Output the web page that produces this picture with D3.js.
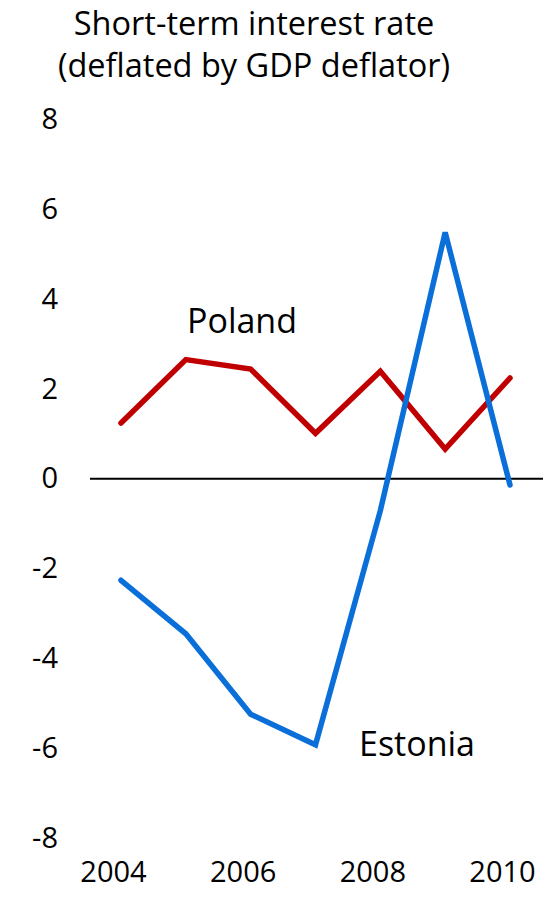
<!DOCTYPE html>
<meta charset="utf-8">
<style>
  body { margin: 0; background: #fff; }
  text { font-family: "Open Sans", "Noto Sans", sans-serif; fill: #000; }
  .title { font-size: 32.5px; }
  .series-label { font-size: 34px; }
</style>
<body>
<svg width="558" height="902"></svg>
<script src="https://d3js.org/d3.v7.min.js"></script>
<script>
// Dane
const years = [2004, 2005, 2006, 2007, 2008, 2009, 2010];
const poland = [1.24, 2.65, 2.44, 1.01, 2.39, 0.66, 2.24];
const estonia = [-2.26, -3.45, -5.24, -5.92, -0.71, 5.48, -0.14];
const yTicks = [-8, -6, -4, -2, 0, 2, 4, 6, 8];
const xTicks = [2004, 2006, 2008, 2010];
const titleLines = ['Short-term interest rate', '(deflated by GDP deflator)'];

const svg = d3.select('svg');

const x = d3.scaleLinear().domain([2004, 2010]).range([121, 510]);
const y = d3.scaleLinear().domain([-8, 8]).range([838.3, 119.1]);

// Tytuł
svg.append('g')
  .selectAll('text')
  .data(titleLines)
  .enter().append('text')
  .attr('class', 'title')
  .attr('x', 254)
  .attr('y', (d, i) => 35 + i * 42)
  .attr('text-anchor', 'middle')
  .text(d => d);

// Oś Y (tylko etykiety)
const yAxis = svg.append('g')
  .attr('transform', 'translate(58,0)')
  .call(d3.axisLeft(y).tickValues(yTicks).tickFormat(d => String(d)).tickSize(0).tickPadding(0));
yAxis.select('.domain').remove();
yAxis.selectAll('text')
  .attr('fill', '#000')
  .style('font-family', '"Open Sans", sans-serif')
  .style('font-size', '29px');

// Oś X (tylko etykiety)
const xAxis = svg.append('g')
  .attr('transform', 'translate(-8,861)')
  .call(d3.axisBottom(x).tickValues(xTicks).tickFormat(d3.format('d')).tickSize(0).tickPadding(0));
xAxis.select('.domain').remove();
xAxis.selectAll('text')
  .attr('fill', '#000')
  .style('font-family', '"Open Sans", sans-serif')
  .style('font-size', '29px');

// Linia zera
svg.append('line')
  .attr('x1', 90)
  .attr('x2', 543)
  .attr('y1', y(0))
  .attr('y2', y(0))
  .attr('stroke', '#000')
  .attr('stroke-width', 2);

const line = d3.line()
  .x((d, i) => x(years[i]))
  .y(d => y(d));

// Serie
const series = [
  { name: 'Poland', values: poland, color: '#c00000', lx: 242, ly: 333 },
  { name: 'Estonia', values: estonia, color: '#0a6fd8', lx: 417, ly: 756 }
];

svg.append('g')
  .selectAll('path')
  .data(series)
  .enter().append('path')
  .attr('d', d => line(d.values))
  .attr('fill', 'none')
  .attr('stroke', d => d.color)
  .attr('stroke-width', 5.5)
  .attr('stroke-linejoin', 'miter')
  .attr('stroke-linecap', 'round');

svg.append('g')
  .selectAll('text')
  .data(series)
  .enter().append('text')
  .attr('class', 'series-label')
  .attr('x', d => d.lx)
  .attr('y', d => d.ly)
  .attr('text-anchor', 'middle')
  .text(d => d.name);
</script>
</body>
